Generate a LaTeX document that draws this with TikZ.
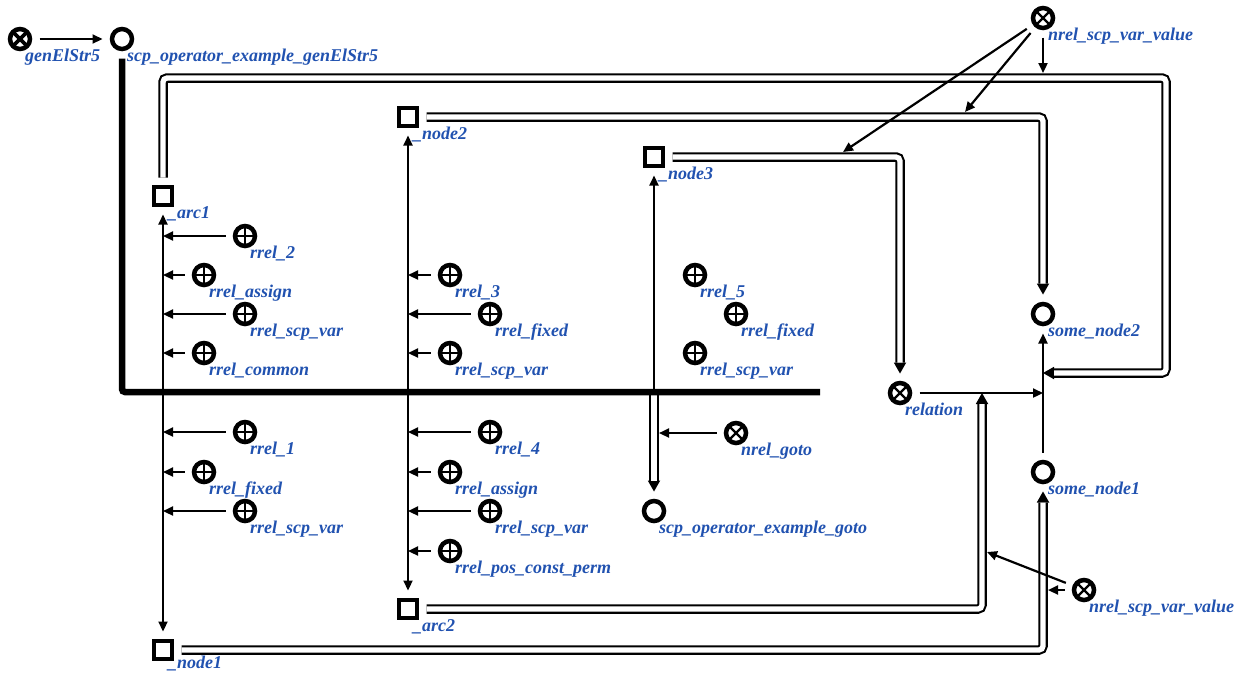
\documentclass[tikz,border=0pt]{standalone}
\usepackage{fontspec}
\setmainfont{Liberation Serif}
\usetikzlibrary{arrows.meta,calc}
\definecolor{lblblue}{RGB}{33,82,176}

\tikzset{
  elem/.style={draw=black, fill=white, line width=4.5pt, inner sep=0pt, outer sep=9.5pt},
  sqnode/.style={elem, rectangle, minimum size=18pt},
  ringnode/.style={elem, circle, minimum size=20pt},
  crossnode/.style={ringnode, path picture={\draw[line width=2.4pt]
      (path picture bounding box.center) +(-8,-8) -- +(8,8) +(-8,8) -- +(8,-8);}},
  boldcross/.style={ringnode, path picture={\draw[line width=3.8pt]
      (path picture bounding box.center) +(-8,-8) -- +(8,8) +(-8,8) -- +(8,-8);}},
  plusnode/.style={ringnode, path picture={\draw[line width=2.4pt]
      (path picture bounding box.center) +(-10,0) -- +(10,0) +(0,-10) -- +(0,10);}},
  lbl/.style={text=lblblue, font=\fontsize{18}{21}\selectfont\bfseries\itshape,
      inner sep=0pt, anchor=base west},
  arr/.style={line width=2.2pt, -{Triangle[length=10pt,width=9pt]}},
  biarr/.style={line width=2.2pt, {Triangle[length=10pt,width=9pt]}-{Triangle[length=10pt,width=9pt]}},
  dbl/.style={line width=9.5pt, rounded corners=4pt,
      -{Triangle[length=11pt,width=12.5pt,line width=0pt]},
      postaction={draw=white, line width=5.3pt, -, shorten >=11pt}},
  bus/.style={line width=6.5pt, rounded corners=3pt},
}

% label placed below-right of an element (optional vertical offset)
\newcommand\elemlabel[3][22]{\node[lbl] (#2-lbl) at ($(#2.center)+(5,#1)$) {#3};}

\begin{document}
\begin{tikzpicture}[x=1pt, y=-1pt]
\useasboundingbox (0,0) rectangle (1244,673);

% ---- elements ----
\node[boldcross] (gen)   at (20,39)   {};
\node[ringnode]  (sgen)  at (122,39)  {};
\node[sqnode]    (arc1)  at (163,196) {};
\node[sqnode]    (node2) at (408,117) {};
\node[sqnode]    (node3) at (654,157) {};
\node[sqnode]    (arc2)  at (408,609) {};
\node[sqnode]    (node1) at (163,650) {};
\node[crossnode] (rel)   at (900,393) {};
\node[ringnode]  (sn2)   at (1043,314) {};
\node[ringnode]  (sn1)   at (1043,472) {};
\node[ringnode]  (goto)  at (654,511) {};
\node[crossnode] (nvtop) at (1043,18) {};
\node[crossnode] (nvbot) at (1084,590) {};
\node[crossnode] (ngoto) at (736,433) {};

% role relations, left column
\node[plusnode] (ra1) at (245,236) {};
\node[plusnode] (ra2) at (204,275) {};
\node[plusnode] (ra3) at (245,314) {};
\node[plusnode] (ra4) at (204,353) {};
\node[plusnode] (ra5) at (245,432) {};
\node[plusnode] (ra6) at (204,472) {};
\node[plusnode] (ra7) at (245,511) {};
% middle column
\node[plusnode] (rb1) at (450,275) {};
\node[plusnode] (rb2) at (490,314) {};
\node[plusnode] (rb3) at (450,353) {};
\node[plusnode] (rb4) at (490,432) {};
\node[plusnode] (rb5) at (450,472) {};
\node[plusnode] (rb6) at (490,511) {};
\node[plusnode] (rb7) at (450,551) {};
% right column
\node[plusnode] (rc1) at (695,275) {};
\node[plusnode] (rc2) at (736,314) {};
\node[plusnode] (rc3) at (695,353) {};

% ---- labels ----
\elemlabel{gen}{genElStr5}
\elemlabel{sgen}{scp\_operator\_example\_genElStr5}
\elemlabel{arc1}{\_arc1}
\elemlabel{node2}{\_node2}
\elemlabel{node3}{\_node3}
\elemlabel{arc2}{\_arc2}
\elemlabel[18.5]{node1}{\_node1}
\elemlabel{rel}{relation}
\elemlabel{sn2}{some\_node2}
\elemlabel{sn1}{some\_node1}
\elemlabel{goto}{scp\_operator\_example\_goto}
\elemlabel{nvtop}{nrel\_scp\_var\_value}
\elemlabel{nvbot}{nrel\_scp\_var\_value}
\elemlabel{ngoto}{nrel\_goto}
\elemlabel{ra1}{rrel\_2}
\elemlabel{ra2}{rrel\_assign}
\elemlabel{ra3}{rrel\_scp\_var}
\elemlabel{ra4}{rrel\_common}
\elemlabel{ra5}{rrel\_1}
\elemlabel{ra6}{rrel\_fixed}
\elemlabel{ra7}{rrel\_scp\_var}
\elemlabel{rb1}{rrel\_3}
\elemlabel{rb2}{rrel\_fixed}
\elemlabel{rb3}{rrel\_scp\_var}
\elemlabel{rb4}{rrel\_4}
\elemlabel{rb5}{rrel\_assign}
\elemlabel{rb6}{rrel\_scp\_var}
\elemlabel{rb7}{rrel\_pos\_const\_perm}
\elemlabel{rc1}{rrel\_5}
\elemlabel{rc2}{rrel\_fixed}
\elemlabel{rc3}{rrel\_scp\_var}

% ---- connection points on arcs ----
\coordinate (j1) at (1043,373);
\coordinate (j2) at (982,393);
\coordinate (j3) at (1043,393);
\coordinate (bus3) at (654,392);
\coordinate (t1) at (1043,73);
\coordinate (t2) at (965,112);
\coordinate (t3) at (843,152);
\coordinate (t4) at (1048,590);
\coordinate (t5) at (987,552);
\coordinate (t6) at (659,433);

% ---- common (double) arcs ----
\draw[dbl] (arc1) -- (163,78) -- (1166,78) -- (1166,373) -- (j1);
\draw[dbl] (node2) -- (1043,117) -- (sn2);
\draw[dbl] (node3) -- (900,157) -- (rel);
\draw[dbl] (arc2) -- (982,609) -- (j2);
\draw[dbl] (node1) -- (1043,650) -- (sn1);
\draw[dbl] (bus3) -- (goto);

% ---- operator contour bus ----
\draw[bus] (sgen) -- (122,392) -- (820,392);

% ---- simple arcs ----
\draw[arr] (gen) -- (sgen);
\draw[biarr] (arc1) -- (node1);
\draw[biarr] (node2) -- (arc2);
\draw[arr] (bus3) -- (node3);
\draw[arr] (rel) -- (j3);
\draw[arr] (sn1) -- (sn2);
\draw[arr] (nvtop) -- (t1);
\draw[arr] (nvtop) -- (t2);
\draw[arr] (nvtop) -- (t3);
\draw[arr] (nvbot) -- (t4);
\draw[arr] (nvbot) -- (t5);
\draw[arr] (ngoto) -- (t6);

\foreach \r in {ra1,ra2,ra3,ra4,ra5,ra6,ra7}
  \draw[arr] (\r) -- (\r -| arc1);
\foreach \r in {rb1,rb2,rb3,rb4,rb5,rb6,rb7}
  \draw[arr] (\r) -- (\r -| node2);
\end{tikzpicture}
\end{document}
